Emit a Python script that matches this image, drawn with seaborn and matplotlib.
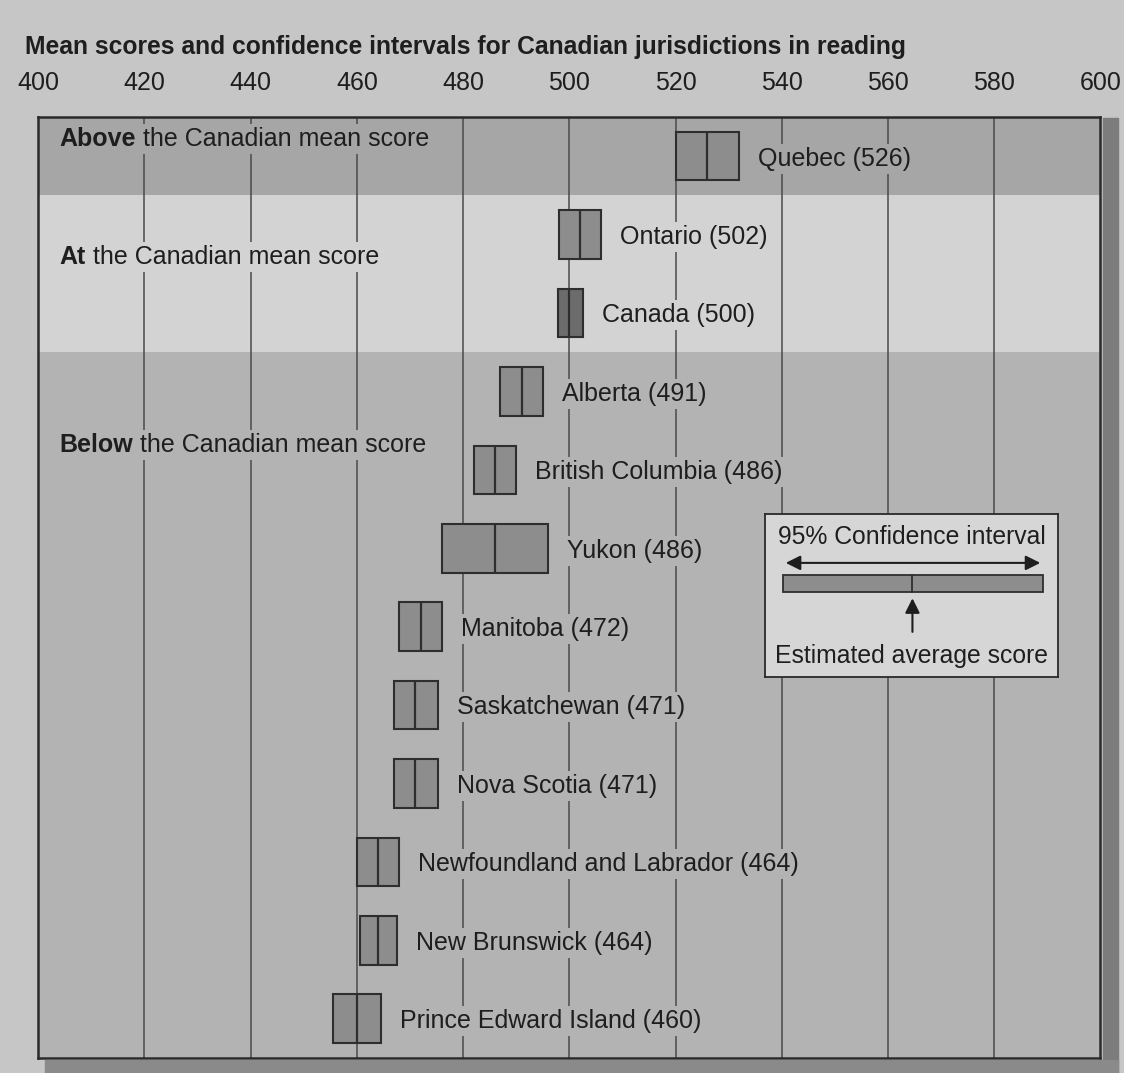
import numpy as np
import pandas as pd
import matplotlib
matplotlib.use("Agg")
import matplotlib.pyplot as plt
import seaborn as sns

# values (top to bottom)
jurisdictions = ["Quebec", "Ontario", "Canada", "Alberta", "British Columbia", "Yukon",
                 "Manitoba", "Saskatchewan", "Nova Scotia", "Newfoundland and Labrador",
                 "New Brunswick", "Prince Edward Island"]
mean_scores = [526, 502, 500, 491, 486, 486, 472, 471, 471, 464, 464, 460]
ci_low = [520, 498, 497.8, 487, 482, 476, 468, 467, 467, 460, 460.5, 455.5]
ci_high = [532, 506, 502.5, 495, 490, 496, 476, 475.3, 475.2, 468, 467.5, 464.5]
groups = ["above", "at", "at", "below", "below", "below", "below", "below", "below",
          "below", "below", "below"]
x_ticks = list(range(400, 601, 20))

band_colors = {"above": "#a6a6a6", "at": "#d3d3d3", "below": "#b3b3b3"}
band_titles = [("above", "Above", " the Canadian mean score", -0.22),
               ("at", "At", " the Canadian mean score", 1.28),
               ("below", "Below", " the Canadian mean score", 3.68)]

df = pd.DataFrame({"name": jurisdictions, "mean": mean_scores, "lo": ci_low,
                   "hi": ci_high, "group": groups})
df["row"] = np.arange(len(df))
df["label"] = df["name"] + " (" + df["mean"].astype(str) + ")"

sns.set_theme(style="white")
plt.rcParams["font.family"] = ["Liberation Sans", "DejaVu Sans"]

fig = plt.figure(figsize=(11.24, 10.73), dpi=100, facecolor="#c6c6c6")

# shadow of the page edge on the right and bottom
fig.patches.append(plt.Rectangle((0.981, 0.0), 0.014, 0.89, transform=fig.transFigure,
                                 color="#7c7c7c", zorder=0))
fig.patches.append(plt.Rectangle((0.04, 0.0), 0.955, 0.012, transform=fig.transFigure,
                                 color="#8a8a8a", zorder=0))

ax = fig.add_axes([0.034, 0.014, 0.945, 0.877])
ax.set_xlim(400, 600)
ax.set_ylim(len(df) - 0.5, -0.5)

# background bands
for g, sub in df.groupby("group"):
    ax.axhspan(sub["row"].min() - 0.5, sub["row"].max() + 0.5,
               color=band_colors[g], zorder=0, lw=0)

for x in x_ticks[1:-1]:
    ax.axvline(x, color="#4a4a4a", lw=1.1, zorder=1)

# confidence interval boxes
box_h = 0.62
fills = ["#6c6c6c" if n == "Canada" else "#8d8d8d" for n in df["name"]]
ax.barh(df["row"], df["hi"] - df["lo"], left=df["lo"], height=box_h,
        color=fills, edgecolor="#2e2e2e", linewidth=1.5, zorder=3)
sns.scatterplot(data=df, x="mean", y="row", marker="|", s=(box_h * 57) ** 2,
                color="#2e2e2e", linewidth=1.6, ax=ax, zorder=4, legend=False)

for _, r in df.iterrows():
    ax.text(r["hi"] + 3.6, r["row"] + 0.03, r["label"], fontsize=18, color="#1e1e1e",
            va="center", ha="left", zorder=5,
            bbox=dict(boxstyle="square,pad=0.12", fc=band_colors[r["group"]], ec="none"))

for g, bold, rest, y in band_titles:
    t = ax.text(0.02, y, bold, transform=ax.get_yaxis_transform(), fontsize=18,
                fontweight="bold", color="#1e1e1e", va="center", ha="left", zorder=6,
                bbox=dict(boxstyle="square,pad=0.12", fc=band_colors[g], ec="none"))
    ax.annotate(rest, xy=(1, 0.5), xycoords=t, va="center", ha="left", fontsize=18,
                color="#1e1e1e", zorder=5,
                bbox=dict(boxstyle="square,pad=0.12", fc=band_colors[g], ec="none"))

ax.set_xticks(x_ticks)
ax.set_yticks([])
ax.xaxis.tick_top()
ax.tick_params(axis="x", length=0, pad=16, labelsize=18, colors="#1e1e1e")
ax.set_xlabel("")
ax.set_ylabel("")
for s in ax.spines.values():
    s.set_color("#2a2a2a")
    s.set_linewidth(1.8)
    s.set_visible(True)

fig.text(0.022, 0.956, "Mean scores and confidence intervals for Canadian jurisdictions in reading",
         fontsize=17.7, fontweight="bold", color="#1e1e1e", va="center", ha="left")

# key box
kx = fig.add_axes([0.681, 0.369, 0.26, 0.152], facecolor="#d6d6d6")
kx.set_xlim(0, 1)
kx.set_ylim(0, 1)
kx.set_xticks([])
kx.set_yticks([])
for s in kx.spines.values():
    s.set_color("#2a2a2a")
    s.set_linewidth(1.3)
kx.text(0.5, 0.86, "95% Confidence interval", fontsize=17.8, ha="center", va="center",
        color="#1e1e1e")
kx.annotate("", xy=(0.06, 0.70), xytext=(0.95, 0.70),
            arrowprops=dict(arrowstyle="<|-|>", color="#1e1e1e", lw=1.5, mutation_scale=22))
kx.barh([0.575], [0.89], left=0.06, height=0.105, color="#8d8d8d", edgecolor="#2e2e2e",
        linewidth=1.3)
kx.plot([0.503, 0.503], [0.522, 0.628], color="#2e2e2e", lw=1.3)
kx.annotate("", xy=(0.503, 0.50), xytext=(0.503, 0.26),
            arrowprops=dict(arrowstyle="-|>", color="#1e1e1e", lw=1.5, mutation_scale=22))
kx.text(0.5, 0.13, "Estimated average score", fontsize=17.8, ha="center", va="center",
        color="#1e1e1e")

fig.savefig("out.png", dpi=100, facecolor=fig.get_facecolor())
